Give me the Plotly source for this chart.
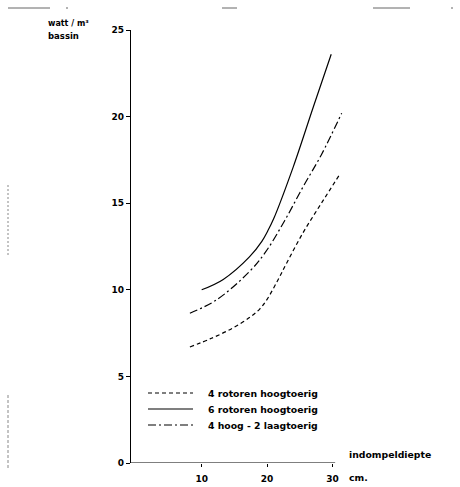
import plotly.graph_objects as go

# ---- data ----
series_names = ["4 rotoren hoogtoerig", "6 rotoren hoogtoerig", "4 hoog - 2 laagtoerig"]

x_4rot = [8.2, 11.5, 14.8, 17.5, 18.9, 20.0, 21.7, 23.0, 25.5, 28.3, 31.0]
y_4rot = [6.7, 7.2, 7.8, 8.45, 8.9, 9.45, 10.6, 11.55, 13.3, 15.0, 16.6]

x_6rot = [10.0, 13.3, 17.3, 19.2, 20.1, 21.0, 24.0, 27.1, 29.8]
y_6rot = [10.0, 10.6, 11.9, 12.8, 13.4, 14.1, 17.1, 20.6, 23.6]

x_mix = [8.2, 12.2, 17.3, 19.8, 22.7, 25.5, 28.3, 31.4]
y_mix = [8.65, 9.4, 11.05, 12.2, 14.0, 15.95, 17.8, 20.2]

x_ticks = [10, 20, 30]
y_ticks = [0, 5, 10, 15, 20, 25]

FONT = "DejaVu Sans"
dashes = ["4px,3px", "solid", "8px,3px,2px,3px"]

fig = go.Figure()
for name, xs, ys, d in zip(series_names, [x_4rot, x_6rot, x_mix], [y_4rot, y_6rot, y_mix], dashes):
    fig.add_trace(go.Scatter(x=xs, y=ys, mode="lines", name=name,
                             line=dict(color="black", width=1.2, dash=d, shape="spline", smoothing=1.0),
                             showlegend=False))

W, H = 460, 487
L, R, T, B = 131, 117, 30, 24
pw, ph = W - L - R, H - T - B

def px(x):
    return (x - L) / pw

def py(y):
    return (H - B - y) / ph

shapes = []
# x axis line
shapes.append(dict(type="line", xref="x", yref="y", x0=-0.8, x1=30.4, y0=0, y1=0,
                   line=dict(color="black", width=1.2)))
# legend samples
leg_y = [393, 409, 425]
for yy, d in zip(leg_y, dashes):
    shapes.append(dict(type="line", xref="paper", yref="paper", x0=px(148), x1=px(193),
                       y0=py(yy), y1=py(yy), line=dict(color="black", width=1.2, dash=d)))
# scan artefacts
for (a, b) in [(8, 50), (66, 68), (222, 237), (373, 410), (451, 453)]:
    shapes.append(dict(type="line", xref="paper", yref="paper", x0=px(a), x1=px(b),
                       y0=py(8), y1=py(8), line=dict(color="#666", width=1)))
for (a, b, dsh) in [(185, 255, "2px,2px"), (395, 470, "3px,2px")]:
    shapes.append(dict(type="line", xref="paper", yref="paper", x0=px(8), x1=px(8),
                       y0=py(a), y1=py(b), line=dict(color="#888", width=1, dash=dsh)))

annotations = []
for yy, name in zip(leg_y, series_names):
    annotations.append(dict(xref="paper", yref="paper", x=px(206), y=py(yy), text=name,
                            showarrow=False, xanchor="left", yanchor="middle",
                            font=dict(family=FONT, size=9.3, color="black", weight="bold")))
annotations += [
    dict(xref="paper", yref="paper", x=px(46), y=py(24), text="watt / m³",
         showarrow=False, xanchor="left", yanchor="middle",
         font=dict(family=FONT, size=8, color="black", weight="bold")),
    dict(xref="paper", yref="paper", x=px(46), y=py(36), text="bassin",
         showarrow=False, xanchor="left", yanchor="middle",
         font=dict(family=FONT, size=8.5, color="black", weight="bold")),
    dict(xref="paper", yref="paper", x=px(347), y=py(454), text="indompeldiepte",
         showarrow=False, xanchor="left", yanchor="middle",
         font=dict(family=FONT, size=9.3, color="black", weight="bold")),
    dict(xref="paper", yref="paper", x=px(347), y=py(477), text="cm.",
         showarrow=False, xanchor="left", yanchor="middle",
         font=dict(family=FONT, size=9.3, color="black", weight="bold")),
]

fig.update_layout(
    width=W, height=H,
    margin=dict(l=L, r=R, t=T, b=B, autoexpand=False),
    paper_bgcolor="white", plot_bgcolor="white",
    shapes=shapes, annotations=annotations,
    xaxis=dict(range=[-0.8, 31.6], tickvals=x_ticks, ticktext=[str(v) for v in x_ticks],
               showgrid=False, zeroline=False, showline=False, automargin=False,
               ticks="outside", ticklen=3, tickcolor="black", tickwidth=1,
               ticklabelstandoff=4,
               tickfont=dict(family=FONT, size=9, color="black", weight="bold")),
    yaxis=dict(range=[0, 25], tickvals=y_ticks, ticktext=[str(v) for v in y_ticks],
               showgrid=False, zeroline=False, showline=True, linecolor="black", linewidth=1.2,
               automargin=False,
               ticks="outside", ticklen=4, tickcolor="black", tickwidth=1,
               tickfont=dict(family=FONT, size=9, color="black", weight="bold")),
)

fig.write_html("out.html")
